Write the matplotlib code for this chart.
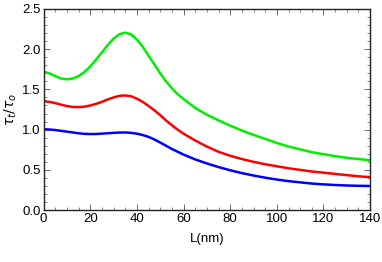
import numpy as np
import matplotlib
matplotlib.use('Agg')
import matplotlib.pyplot as plt
from matplotlib.ticker import MultipleLocator, FormatStrFormatter

plt.rcParams['font.family'] = ['Liberation Sans Narrow', 'Liberation Sans', 'DejaVu Sans']
plt.rcParams['mathtext.fontset'] = 'dejavusans'

# L in nm: read every 2.5 nm up to 60, then every 5 nm
L = np.concatenate([np.arange(0, 60.1, 2.5), np.arange(65, 141, 5)])

green = [1.72, 1.70, 1.665, 1.635, 1.625, 1.635, 1.665, 1.715, 1.785, 1.87,
         1.96, 2.05, 2.13, 2.185, 2.205, 2.185, 2.12, 2.03, 1.92, 1.81,
         1.70, 1.60, 1.515, 1.44, 1.38,
         1.27, 1.185, 1.115, 1.05, 0.99, 0.935, 0.885, 0.835, 0.79, 0.755,
         0.72, 0.695, 0.67, 0.65, 0.635, 0.62]
red = [1.355, 1.345, 1.33, 1.31, 1.293, 1.282, 1.28, 1.285, 1.30, 1.32,
       1.345, 1.375, 1.40, 1.42, 1.425, 1.415, 1.385, 1.345, 1.295, 1.24,
       1.18, 1.115, 1.055, 1.00, 0.95,
       0.865, 0.79, 0.725, 0.675, 0.635, 0.60, 0.57, 0.545, 0.52, 0.50,
       0.48, 0.465, 0.45, 0.435, 0.42, 0.41]
blue = [1.005, 1.002, 0.995, 0.985, 0.975, 0.965, 0.955, 0.948, 0.945, 0.946,
        0.95, 0.955, 0.96, 0.964, 0.965, 0.96, 0.95, 0.933, 0.91, 0.878,
        0.84, 0.80, 0.76, 0.725, 0.69,
        0.63, 0.58, 0.535, 0.495, 0.46, 0.43, 0.403, 0.38, 0.36, 0.345,
        0.33, 0.32, 0.312, 0.306, 0.302, 0.30]

fig = plt.figure(figsize=(3.82, 2.62), dpi=100)
ax = fig.add_axes([0.114, 0.198, 0.855, 0.768])

ax.plot(L, green, color='#00ee00', lw=1.8)
ax.plot(L, red, color='#ff0000', lw=1.8)
ax.plot(L, blue, color='#0000ff', lw=1.8)

ax.set_xlim(0, 140)
ax.set_ylim(0, 2.5)
ax.xaxis.set_major_locator(MultipleLocator(20))
ax.xaxis.set_minor_locator(MultipleLocator(5))
ax.yaxis.set_major_locator(MultipleLocator(0.5))
ax.yaxis.set_minor_locator(MultipleLocator(0.1))
ax.yaxis.set_major_formatter(FormatStrFormatter('%.1f'))

ax.tick_params(which='both', direction='in', top=True, right=True,
               color='#555555', labelsize=9.5, pad=2)
ax.tick_params(which='major', length=4, width=0.6)
ax.tick_params(which='minor', length=2, width=0.5)
for s in ax.spines.values():
    s.set_color('#222222')
    s.set_linewidth(1.0)

ax.set_xlabel('L(nm)', fontsize=9.5, labelpad=6)
ax.set_ylabel(r'$\tau_t/\tau_o$', fontsize=10, labelpad=2)

fig.savefig('out.png', dpi=100)
